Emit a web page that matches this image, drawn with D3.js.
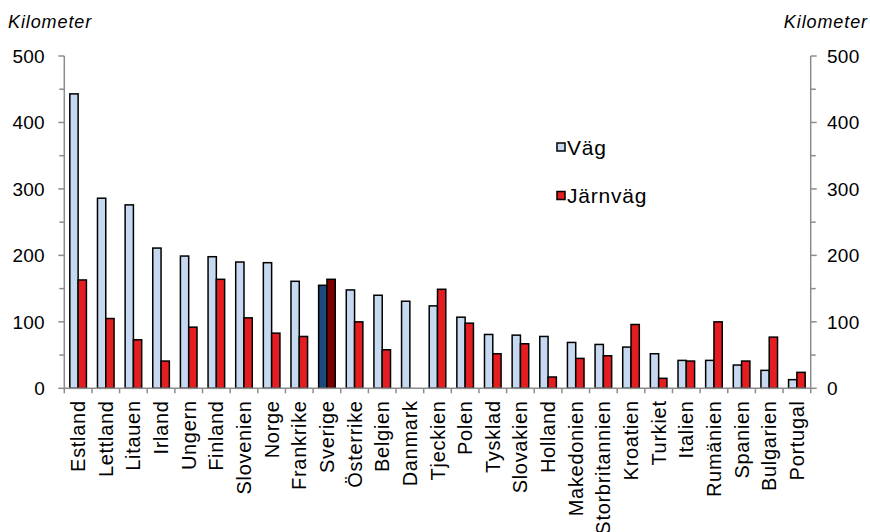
<!DOCTYPE html>
<html>
<head>
<meta charset="utf-8">
<script src="https://cdn.jsdelivr.net/npm/d3@7"></script>
<style>
  body { margin: 0; background: #fff; }
  svg text { font-family: "Liberation Sans", Arial, sans-serif; fill: #000; }
</style>
</head>
<body>
<div id="chart"></div>
<script>
const countries = ["Estland", "Lettland", "Litauen", "Irland", "Ungern", "Finland", "Slovenien",
  "Norge", "Frankrike", "Sverige", "Österrike", "Belgien", "Danmark", "Tjeckien", "Polen",
  "Tysklad", "Slovakien", "Holland", "Makedonien", "Storbritannien", "Kroatien", "Turkiet",
  "Italien", "Rumänien", "Spanien", "Bulgarien", "Portugal"];
// Väg (road) and Järnväg (rail), km
const vag = [443, 286, 276, 211, 199, 198, 190, 189, 161, 155, 148, 140, 131, 124, 107,
  81, 80, 78, 69, 66, 62, 52, 42, 42, 35, 27, 13];
const jarnvag = [163, 105, 73, 41, 92, 164, 106, 83, 78, 164, 100, 58, 0, 149, 98,
  52, 67, 17, 45, 49, 96, 15, 41, 100, 41, 77, 24];
const yTicks = [0, 100, 200, 300, 400, 500];
const seriesNames = ["Väg", "Järnväg"];
const highlight = "Sverige";

const width = 870, height = 532;
const margin = {left: 64.3, right: 870 - 810.7, top: 56, bottom: 532 - 388.3};

const colors = {"Väg": "#c6d9f1", "Järnväg": "#e41e20"};
const hiColors = {"Väg": "#1f497d", "Järnväg": "#7a0000"};

const svg = d3.select("#chart").append("svg")
  .attr("width", width)
  .attr("height", height);

const x = d3.scaleBand()
  .domain(countries)
  .range([margin.left, width - margin.right])
  .paddingInner(0)
  .paddingOuter(0);

const x1 = d3.scaleBand()
  .domain(seriesNames)
  .range([x.bandwidth() * 0.2, x.bandwidth() * 0.8])
  .padding(0);

const y = d3.scaleLinear()
  .domain([0, 500])
  .range([height - margin.bottom, margin.top]);

const data = countries.map((c, i) => ({name: c, values: [
  {key: "Väg", value: vag[i]},
  {key: "Järnväg", value: jarnvag[i]}
]}));

// bars
const groups = svg.append("g").selectAll("g")
  .data(data)
  .enter().append("g")
  .attr("transform", d => `translate(${x(d.name)},0)`);

groups.selectAll("rect")
  .data(d => d.values.filter(v => v.value > 0).map(v => ({...v, name: d.name})))
  .enter().append("rect")
  .attr("x", d => x1(d.key))
  .attr("width", x1.bandwidth())
  .attr("y", d => y(d.value))
  .attr("height", d => y(0) - y(d.value))
  .attr("fill", d => d.name === highlight ? hiColors[d.key] : colors[d.key])
  .attr("stroke", "#000")
  .attr("stroke-width", 1.5);

// axes
const axisColor = "#8c8c8c";
const minorTicks = d3.range(50, 500, 100);

function yAxis(side) {
  const xPos = side === "left" ? margin.left : width - margin.right;
  const dir = side === "left" ? -1 : 1;
  const g = svg.append("g");
  g.append("line")
    .attr("x1", xPos).attr("x2", xPos)
    .attr("y1", y(0)).attr("y2", y(500))
    .attr("stroke", axisColor).attr("stroke-width", 1.5);
  g.selectAll(".major").data(yTicks).enter().append("line")
    .attr("x1", xPos).attr("x2", xPos + dir * 6)
    .attr("y1", d => y(d)).attr("y2", d => y(d))
    .attr("stroke", axisColor).attr("stroke-width", 1.5);
  g.selectAll(".minor").data(minorTicks).enter().append("line")
    .attr("x1", xPos).attr("x2", xPos + dir * 5)
    .attr("y1", d => y(d)).attr("y2", d => y(d))
    .attr("stroke", axisColor).attr("stroke-width", 1.5);
  g.selectAll("text").data(yTicks).enter().append("text")
    .attr("x", side === "left" ? 45 : 827)
    .attr("y", d => y(d))
    .attr("dy", "0.36em")
    .attr("text-anchor", side === "left" ? "end" : "start")
    .attr("font-size", "19px")
    .attr("letter-spacing", "0.3px")
    .text(d => d);
}
yAxis("left");
yAxis("right");

// category axis
const xg = svg.append("g");
xg.append("line")
  .attr("x1", margin.left).attr("x2", width - margin.right)
  .attr("y1", y(0)).attr("y2", y(0))
  .attr("stroke", axisColor).attr("stroke-width", 1.5);
xg.selectAll(".tick").data(countries.concat(["end"])).enter().append("line")
  .attr("x1", (d, i) => margin.left + i * x.step())
  .attr("x2", (d, i) => margin.left + i * x.step())
  .attr("y1", y(0)).attr("y2", y(0) + 5)
  .attr("stroke", axisColor).attr("stroke-width", 1.5);
xg.selectAll("text").data(countries).enter().append("text")
  .attr("transform", d => `translate(${x(d) + x.bandwidth() / 2 + 7},${y(0) + 12}) rotate(-90)`)
  .attr("text-anchor", "end")
  .attr("font-size", "20px")
  .attr("letter-spacing", "0.7px")
  .text(d => d);

// unit labels
svg.append("text")
  .attr("x", 8).attr("y", 28)
  .attr("font-size", "18px")
  .attr("font-style", "italic")
  .attr("letter-spacing", "0.9px")
  .text("Kilometer");
svg.append("text")
  .attr("x", 868).attr("y", 28)
  .attr("text-anchor", "end")
  .attr("font-size", "18px")
  .attr("font-style", "italic")
  .attr("letter-spacing", "0.9px")
  .text("Kilometer");

// legend
const legend = svg.append("g").selectAll("g")
  .data(seriesNames)
  .enter().append("g")
  .attr("transform", (d, i) => `translate(557,${147 + i * 48.5})`);
legend.append("rect")
  .attr("x", 0).attr("y", -4)
  .attr("width", 8).attr("height", 8)
  .attr("fill", d => colors[d])
  .attr("stroke", "#000")
  .attr("stroke-width", 1.5);
legend.append("text")
  .attr("x", 10).attr("y", 0)
  .attr("dy", "0.36em")
  .attr("font-size", "21px")
  .attr("letter-spacing", "0.8px")
  .text(d => d);
</script>
</body>
</html>
